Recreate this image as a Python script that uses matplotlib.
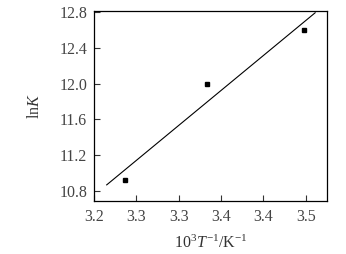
import matplotlib
matplotlib.use("Agg")
import matplotlib.pyplot as plt

plt.rcParams['font.family'] = 'Liberation Serif'
plt.rcParams['mathtext.fontset'] = 'custom'
plt.rcParams['mathtext.rm'] = 'Liberation Serif'
plt.rcParams['mathtext.it'] = 'Liberation Serif:italic'

# data
inv_t = [3.236, 3.333, 3.448]
ln_k = [10.92, 12.0, 12.6]
fit_x = [3.215, 3.461]
fit_y = [10.87, 12.79]
xticks = [3.20, 3.25, 3.30, 3.35, 3.40, 3.45]
xtick_labels = ['3.2', '3.3', '3.3', '3.4', '3.4', '3.5']
yticks = [10.8, 11.2, 11.6, 12.0, 12.4, 12.8]

fig = plt.figure(figsize=(3.46, 2.54), dpi=100)
ax = fig.add_axes([94/346, 1 - 201/254, (327-94)/346, (201-11)/254])

ax.plot(fit_x, fit_y, color='black', lw=0.8)
ax.plot(inv_t, ln_k, 's', color='black', ms=2.8)

ax.set_xlim(3.20, 3.475)
ax.set_ylim(10.69, 12.81)
ax.set_xticks(xticks)
ax.set_xticklabels(xtick_labels)
ax.set_yticks(yticks)
ax.set_yticklabels(['%.1f' % v for v in yticks])
ax.tick_params(direction='in', length=4, width=0.8, labelsize=11.5, colors='#333333',
               labelcolor='#444444')
ax.tick_params(axis='x', pad=6)
ax.tick_params(axis='y', pad=5)
for s in ax.spines.values():
    s.set_linewidth(0.9)

ax.set_xlabel('10$^3$$T^{-1}$/K$^{-1}$', fontsize=11.5, color='#333333', labelpad=7)
ax.set_ylabel('ln$K$', fontsize=11.5, color='#333333', labelpad=12)

fig.savefig('out.png', dpi=100)
